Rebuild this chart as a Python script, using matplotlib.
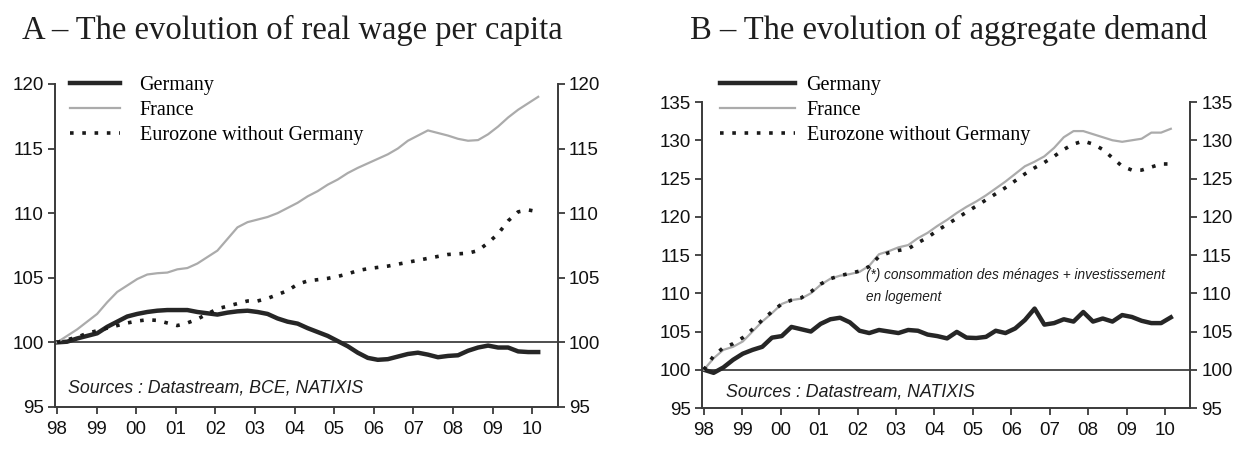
import numpy as np
import matplotlib
matplotlib.use("Agg")
import matplotlib.pyplot as plt

# quarterly observations, first quarter of 1998 = 100
quarters = np.linspace(1998.0, 2010.15, 49)
year_ticks = np.arange(1998, 2011)
year_labels = ['98', '99', '00', '01', '02', '03', '04', '05', '06', '07', '08', '09', '10']
series_names = ['Germany', 'France', 'Eurozone without Germany']

# A - real wage per capita
wage_germany = [100.0, 100.05, 100.3, 100.5, 100.7, 101.2, 101.6, 102.0, 102.2, 102.35,
                102.45, 102.5, 102.5, 102.5, 102.35, 102.25, 102.15, 102.3, 102.4, 102.45,
                102.35, 102.2, 101.85, 101.6, 101.45, 101.1, 100.8, 100.5, 100.1, 99.7,
                99.2, 98.8, 98.65, 98.7, 98.9, 99.1, 99.2, 99.05, 98.85, 98.95,
                99.0, 99.35, 99.6, 99.75, 99.6, 99.6, 99.3, 99.25, 99.25]
wage_france = [100.0, 100.5, 101.0, 101.6, 102.2, 103.1, 103.9, 104.4, 104.9, 105.25,
               105.35, 105.4, 105.65, 105.75, 106.1, 106.6, 107.1, 108.0, 108.9, 109.3,
               109.5, 109.7, 110.0, 110.4, 110.8, 111.3, 111.7, 112.2, 112.6, 113.1,
               113.5, 113.85, 114.2, 114.55, 115.0, 115.6, 116.0, 116.4, 116.2, 116.0,
               115.75, 115.6, 115.65, 116.1, 116.7, 117.4, 118.0, 118.5, 119.0]
wage_eurozone = [100.0, 100.2, 100.4, 100.7, 100.9, 101.1, 101.3, 101.5, 101.65, 101.75,
                 101.7, 101.5, 101.3, 101.5, 101.8, 102.2, 102.6, 102.8, 103.0, 103.2,
                 103.2, 103.4, 103.7, 104.0, 104.5, 104.75, 104.85, 104.95, 105.1, 105.3,
                 105.55, 105.7, 105.8, 105.9, 106.05, 106.2, 106.35, 106.5, 106.65, 106.8,
                 106.85, 106.9, 107.1, 107.7, 108.4, 109.4, 110.1, 110.25, 110.1]

# B - aggregate demand
demand_germany = [100.0, 99.6, 100.3, 101.3, 102.1, 102.6, 103.0, 104.2, 104.4, 105.6,
                  105.3, 105.0, 106.0, 106.6, 106.8, 106.2, 105.1, 104.8, 105.2, 105.0,
                  104.8, 105.2, 105.1, 104.6, 104.4, 104.1, 104.95, 104.2, 104.15, 104.3,
                  105.1, 104.8, 105.4, 106.5, 108.0, 105.9, 106.1, 106.6, 106.3, 107.55,
                  106.3, 106.7, 106.3, 107.15, 106.9, 106.4, 106.1, 106.1, 106.85]
demand_france = [100.0, 101.5, 102.6, 103.0, 103.7, 105.0, 106.3, 107.4, 108.6, 109.1,
                 109.3, 110.0, 111.1, 111.9, 112.3, 112.5, 112.8, 113.6, 115.1, 115.5,
                 116.0, 116.3, 117.2, 117.9, 118.8, 119.6, 120.5, 121.3, 122.0, 122.8,
                 123.7, 124.6, 125.6, 126.6, 127.2, 127.9, 129.0, 130.4, 131.2, 131.2,
                 130.8, 130.4, 130.0, 129.8, 130.0, 130.2, 131.0, 131.0, 131.5]
demand_eurozone = [100.0, 101.8, 102.9, 103.4, 104.2, 105.3, 106.5, 107.6, 108.6, 109.1,
                   109.4, 110.2, 111.2, 111.9, 112.3, 112.6, 112.9, 113.5, 114.8, 115.3,
                   115.6, 115.8, 116.6, 117.3, 118.2, 119.0, 119.8, 120.6, 121.4, 122.2,
                   123.0, 123.8, 124.7, 125.6, 126.4, 127.1, 127.9, 128.8, 129.5, 129.9,
                   129.5, 128.8, 127.7, 126.6, 126.1, 126.1, 126.5, 126.9, 126.9]

wage_yticks = [95, 100, 105, 110, 115, 120]
demand_yticks = [95, 100, 105, 110, 115, 120, 125, 130, 135]

SANS = ['Liberation Sans', 'DejaVu Sans']
SERIF = ['Liberation Serif', 'DejaVu Serif']
INK = '#1e1e1e'

fig = plt.figure(figsize=(12.4, 4.5), dpi=100)
ax_a = fig.add_axes([0.0444, 0.0956, 0.4056, 0.718])
ax_b = fig.add_axes([0.5661, 0.0933, 0.3936, 0.680])


def draw_panel(ax, germany, france, eurozone, yticks, ylim):
    ax.plot(quarters, germany, color='#262626', lw=3.2, solid_joinstyle='round',
            label=series_names[0])
    ax.plot(quarters, france, color='#ababab', lw=1.6, label=series_names[1])
    ax.plot(quarters, eurozone, color='#1a1a1a', lw=2.6, linestyle=(0, (1, 2.4)),
            label=series_names[2])
    ax.axhline(100, color=INK, lw=1.1, zorder=1)
    ax.set_xlim(1997.95, 2010.65)
    ax.set_ylim(*ylim)
    ax.set_yticks(yticks)
    ax.set_xticks(year_ticks)
    ax.set_xticklabels(year_labels)
    ax.spines['top'].set_visible(False)
    for side in ['left', 'right', 'bottom']:
        ax.spines[side].set_color('#3a3a3a')
        ax.spines[side].set_linewidth(1.4)
    ax.tick_params(axis='y', which='both', direction='out', length=5, width=1.3,
                   colors='#3a3a3a', labelcolor='#111111', left=True, right=True,
                   labelleft=True, labelright=True, labelsize=13.5, pad=3)
    ax.tick_params(axis='x', direction='out', length=5, width=1.3, colors='#3a3a3a',
                   labelcolor='#111111', labelsize=13.5, pad=5)
    for lab in ax.get_xticklabels() + ax.get_yticklabels():
        lab.set_family(SANS)
    # the right-hand labels are a separate set in matplotlib
    for tick in ax.yaxis.get_major_ticks():
        tick.label2.set_family(SANS)


draw_panel(ax_a, wage_germany, wage_france, wage_eurozone, wage_yticks, (95, 120))
draw_panel(ax_b, demand_germany, demand_france, demand_eurozone, demand_yticks, (95, 135))

leg_a = ax_a.legend(loc='upper left', bbox_to_anchor=(0.03, 1.025), frameon=False,
                    prop={'family': SERIF, 'size': 14.5}, handlelength=2.5,
                    handletextpad=0.95, labelspacing=0.3, borderpad=0, borderaxespad=0)
leg_b = ax_b.legend(loc='upper left', bbox_to_anchor=(0.037, 1.085), frameon=False,
                    prop={'family': SERIF, 'size': 14.5}, handlelength=3.7,
                    handletextpad=0.6, labelspacing=0.3, borderpad=0, borderaxespad=0)

ax_a.text(0.026, 0.06, 'Sources : Datastream, BCE, NATIXIS', transform=ax_a.transAxes,
          family=SANS, style='italic', fontsize=12.8, color=INK, va='center')
ax_b.text(0.05, 0.052, 'Sources : Datastream, NATIXIS', transform=ax_b.transAxes,
          family=SANS, style='italic', fontsize=12.8, color=INK, va='center')
ax_b.text(0.336, 0.435, '(*) consommation des ménages + investissement',
          transform=ax_b.transAxes, family=SANS, style='italic', fontsize=9.8,
          color=INK, va='center')
ax_b.text(0.336, 0.363, 'en logement', transform=ax_b.transAxes, family=SANS,
          style='italic', fontsize=9.8, color=INK, va='center')

fig.text(22 / 1240, 1 - 30 / 450, 'A – The evolution of real wage per capita',
         family=SERIF, fontsize=23.5, color=INK, va='center', ha='left')
fig.text(690 / 1240, 1 - 30 / 450, 'B – The evolution of aggregate demand',
         family=SERIF, fontsize=23.5, color=INK, va='center', ha='left')

fig.savefig('out.png', dpi=100, facecolor='white')
